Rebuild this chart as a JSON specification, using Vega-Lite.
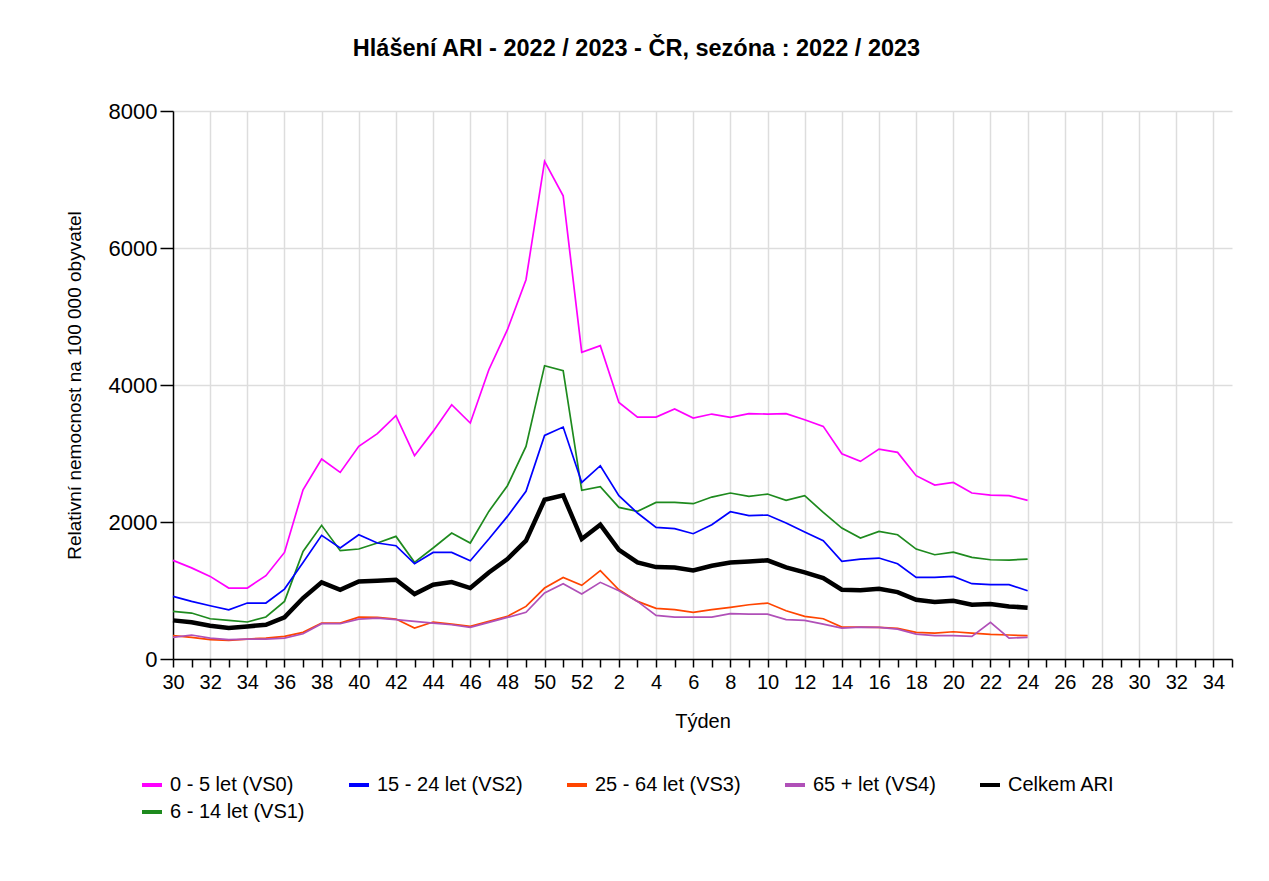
{
  "$schema": "https://vega.github.io/schema/vega-lite/v6.json",
  "autosize": {"type": "none"},
  "padding": {"left": 173, "top": 111, "right": 37, "bottom": 222},
  "width": 1059,
  "height": 548,
  "background": "white",
  "title": {
    "text": "Hlášení ARI - 2022 / 2023 - ČR, sezóna : 2022 / 2023",
    "font": "Liberation Sans",
    "fontSize": 23.5,
    "fontWeight": "bold",
    "color": "#000000",
    "anchor": "middle",
    "frame": "group",
    "dx": -66,
    "offset": 40
  },
  "data": {
    "values": [
      {"i":0,"w":30,"VS0":1440,"VS1":695,"VS2":914,"VS3":340,"VS4":315,"ARI":564},
      {"i":1,"w":31,"VS0":1330,"VS1":671,"VS2":841,"VS3":315,"VS4":350,"ARI":535},
      {"i":2,"w":32,"VS0":1206,"VS1":588,"VS2":778,"VS3":282,"VS4":306,"ARI":486},
      {"i":3,"w":33,"VS0":1036,"VS1":564,"VS2":719,"VS3":272,"VS4":282,"ARI":452},
      {"i":4,"w":34,"VS0":1036,"VS1":540,"VS2":817,"VS3":291,"VS4":291,"ARI":476},
      {"i":5,"w":35,"VS0":1216,"VS1":613,"VS2":817,"VS3":306,"VS4":291,"ARI":500},
      {"i":6,"w":36,"VS0":1556,"VS1":841,"VS2":1021,"VS3":330,"VS4":306,"ARI":607},
      {"i":7,"w":37,"VS0":2471,"VS1":1571,"VS2":1410,"VS3":389,"VS4":369,"ARI":890},
      {"i":8,"w":38,"VS0":2920,"VS1":1951,"VS2":1805,"VS3":525,"VS4":515,"ARI":1119},
      {"i":9,"w":39,"VS0":2724,"VS1":1581,"VS2":1620,"VS3":525,"VS4":515,"ARI":1011},
      {"i":10,"w":40,"VS0":3104,"VS1":1606,"VS2":1814,"VS3":612,"VS4":583,"ARI":1133},
      {"i":11,"w":41,"VS0":3289,"VS1":1693,"VS2":1693,"VS3":607,"VS4":598,"ARI":1143},
      {"i":12,"w":42,"VS0":3552,"VS1":1790,"VS2":1654,"VS3":583,"VS4":574,"ARI":1157},
      {"i":13,"w":43,"VS0":2968,"VS1":1411,"VS2":1391,"VS3":452,"VS4":549,"ARI":948},
      {"i":14,"w":44,"VS0":3323,"VS1":1620,"VS2":1556,"VS3":540,"VS4":525,"ARI":1085},
      {"i":15,"w":45,"VS0":3712,"VS1":1839,"VS2":1556,"VS3":510,"VS4":500,"ARI":1123},
      {"i":16,"w":46,"VS0":3445,"VS1":1693,"VS2":1435,"VS3":476,"VS4":462,"ARI":1036},
      {"i":17,"w":47,"VS0":4223,"VS1":2155,"VS2":1751,"VS3":549,"VS4":535,"ARI":1264},
      {"i":18,"w":48,"VS0":4807,"VS1":2530,"VS2":2082,"VS3":622,"VS4":607,"ARI":1459},
      {"i":19,"w":49,"VS0":5537,"VS1":3104,"VS2":2447,"VS3":768,"VS4":681,"ARI":1727},
      {"i":20,"w":50,"VS0":7264,"VS1":4282,"VS2":3264,"VS3":1036,"VS4":963,"ARI":2325},
      {"i":21,"w":51,"VS0":6763,"VS1":4209,"VS2":3386,"VS3":1191,"VS4":1099,"ARI":2389},
      {"i":22,"w":52,"VS0":4476,"VS1":2462,"VS2":2578,"VS3":1075,"VS4":948,"ARI":1751},
      {"i":23,"w":1,"VS0":4574,"VS1":2515,"VS2":2822,"VS3":1289,"VS4":1119,"ARI":1960},
      {"i":24,"w":2,"VS0":3746,"VS1":2213,"VS2":2384,"VS3":1011,"VS4":997,"ARI":1595},
      {"i":25,"w":3,"VS0":3532,"VS1":2155,"VS2":2131,"VS3":841,"VS4":841,"ARI":1410},
      {"i":26,"w":4,"VS0":3532,"VS1":2286,"VS2":1921,"VS3":739,"VS4":637,"ARI":1342},
      {"i":27,"w":5,"VS0":3649,"VS1":2286,"VS2":1902,"VS3":720,"VS4":612,"ARI":1337},
      {"i":28,"w":6,"VS0":3517,"VS1":2267,"VS2":1829,"VS3":681,"VS4":612,"ARI":1294},
      {"i":29,"w":7,"VS0":3576,"VS1":2364,"VS2":1960,"VS3":720,"VS4":612,"ARI":1362},
      {"i":30,"w":8,"VS0":3527,"VS1":2423,"VS2":2150,"VS3":754,"VS4":661,"ARI":1410},
      {"i":31,"w":9,"VS0":3581,"VS1":2374,"VS2":2092,"VS3":792,"VS4":656,"ARI":1425},
      {"i":32,"w":10,"VS0":3576,"VS1":2408,"VS2":2101,"VS3":817,"VS4":656,"ARI":1440},
      {"i":33,"w":11,"VS0":3581,"VS1":2316,"VS2":1985,"VS3":705,"VS4":574,"ARI":1337},
      {"i":34,"w":12,"VS0":3493,"VS1":2384,"VS2":1853,"VS3":622,"VS4":564,"ARI":1264},
      {"i":35,"w":13,"VS0":3396,"VS1":2140,"VS2":1727,"VS3":588,"VS4":510,"ARI":1182},
      {"i":36,"w":14,"VS0":2997,"VS1":1912,"VS2":1425,"VS3":466,"VS4":452,"ARI":1011},
      {"i":37,"w":15,"VS0":2885,"VS1":1766,"VS2":1459,"VS3":466,"VS4":466,"ARI":1002},
      {"i":38,"w":16,"VS0":3065,"VS1":1863,"VS2":1474,"VS3":462,"VS4":462,"ARI":1026},
      {"i":39,"w":17,"VS0":3016,"VS1":1814,"VS2":1391,"VS3":447,"VS4":437,"ARI":977},
      {"i":40,"w":18,"VS0":2676,"VS1":1605,"VS2":1191,"VS3":389,"VS4":364,"ARI":865},
      {"i":41,"w":19,"VS0":2539,"VS1":1522,"VS2":1191,"VS3":379,"VS4":340,"ARI":831},
      {"i":42,"w":20,"VS0":2578,"VS1":1561,"VS2":1206,"VS3":398,"VS4":340,"ARI":851},
      {"i":43,"w":21,"VS0":2423,"VS1":1483,"VS2":1099,"VS3":379,"VS4":330,"ARI":792},
      {"i":44,"w":22,"VS0":2393,"VS1":1449,"VS2":1085,"VS3":359,"VS4":535,"ARI":802},
      {"i":45,"w":23,"VS0":2384,"VS1":1444,"VS2":1085,"VS3":350,"VS4":306,"ARI":768},
      {"i":46,"w":24,"VS0":2316,"VS1":1459,"VS2":997,"VS3":340,"VS4":315,"ARI":749}
    ]
  },
  "transform": [
    {"fold": ["VS0", "VS1", "VS2", "VS3", "VS4", "ARI"], "as": ["g", "v"]}
  ],
  "mark": {"type": "line", "strokeJoin": "miter", "strokeCap": "butt"},
  "encoding": {
    "x": {
      "field": "i",
      "type": "quantitative",
      "scale": {"domain": [0, 57], "nice": false, "zero": false},
      "axis": {
        "title": "Týden",
        "values": [0,1,2,3,4,5,6,7,8,9,10,11,12,13,14,15,16,17,18,19,20,21,22,23,24,25,26,27,28,29,30,31,32,33,34,35,36,37,38,39,40,41,42,43,44,45,46,47,48,49,50,51,52,53,54,55,56,57],
        "labelExpr": "datum.value % 2 == 0 ? (datum.value <= 22 ? '' + (datum.value + 30) : '' + (datum.value - 22)) : ''",
        "labelOverlap": false,
        "labelFlush": false,
        "labelFont": "Liberation Sans",
        "labelFontSize": 20,
        "labelColor": "#000000",
        "labelPadding": 5,
        "tickSize": 8,
        "tickColor": "#000000",
        "tickWidth": 1.5,
        "domainColor": "#000000",
        "domainWidth": 1.5,
        "grid": true,
        "gridColor": "#dddddd",
        "gridWidth": 1.5,
        "gridOpacity": {"condition": {"test": "datum.value % 2 == 0 && datum.value > 0", "value": 1}, "value": 0},
        "titleFont": "Liberation Sans",
        "titleFontSize": 20,
        "titleFontWeight": "normal",
        "titleColor": "#000000",
        "titlePadding": 19
      }
    },
    "y": {
      "field": "v",
      "type": "quantitative",
      "scale": {"domain": [0, 8000], "nice": false},
      "axis": {
        "title": "Relativní nemocnost na 100 000 obyvatel",
        "values": [0, 2000, 4000, 6000, 8000],
        "format": "d",
        "labelFont": "Liberation Sans",
        "labelFontSize": 22,
        "labelColor": "#000000",
        "labelPadding": 3,
        "tickSize": 13,
        "tickColor": "#000000",
        "tickWidth": 1.5,
        "domainColor": "#000000",
        "domainWidth": 1.5,
        "grid": true,
        "gridColor": "#dddddd",
        "gridWidth": 1.5,
        "titleFont": "Liberation Sans",
        "titleFontSize": 19,
        "titleFontWeight": "normal",
        "titleColor": "#000000",
        "titlePadding": 24
      }
    },
    "color": {
      "field": "g",
      "type": "nominal",
      "scale": {
        "domain": ["VS0", "VS2", "VS3", "VS4", "ARI", "VS1"],
        "range": ["#ff00ff", "#0000ff", "#ff4500", "#b050b8", "#000000", "#1e8a1e"]
      },
      "legend": {
        "title": null,
        "orient": "none",
        "legendX": -33,
        "legendY": 662,
        "direction": "horizontal",
        "columns": 5,
        "columnPadding": 36,
        "rowPadding": 5,
        "padding": 0,
        "symbolType": "stroke",
        "symbolSize": 400,
        "symbolStrokeWidth": 4,
        "labelFont": "Liberation Sans",
        "labelFontSize": 20,
        "labelColor": "#000000",
        "labelOffset": 6,
        "labelLimit": 400,
        "labelExpr": "datum.label == 'VS0' ? '0 - 5 let (VS0)' : datum.label == 'VS1' ? '6 - 14 let (VS1)' : datum.label == 'VS2' ? '15 - 24 let (VS2)' : datum.label == 'VS3' ? '25 - 64 let (VS3)' : datum.label == 'VS4' ? '65 + let (VS4)' : 'Celkem ARI'",
        "encode": {
          "symbols": {"update": {"strokeWidth": {"value": 4}}}
        }
      }
    },
    "strokeWidth": {
      "condition": {"test": "datum.g == 'ARI'", "value": 4.5},
      "value": 1.7
    }
  },
  "config": {
    "view": {"stroke": null},
    "font": "Liberation Sans"
  }
}
